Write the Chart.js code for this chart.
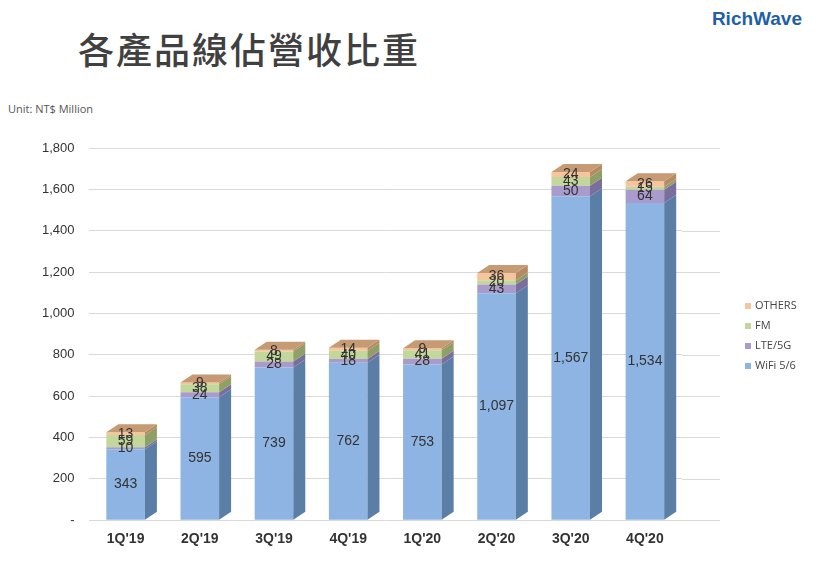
<!DOCTYPE html>
<html>
<head>
<meta charset="utf-8">
<script src="https://cdn.jsdelivr.net/npm/chart.js@4"></script>
<style>
  body { margin: 0; background: #fff; font-family: "Open Sans", "Noto Sans", sans-serif; }
  #wrap { position: relative; width: 820px; height: 561px; }
  #title { position: absolute; left: 78px; top: 22px; font-size: 36px; font-weight: 500; color: #404040; font-family: "Noto Sans CJK TC", sans-serif; letter-spacing: 2px; }
  #logo { position: absolute; right: 18px; top: 8px; font-size: 19px; font-weight: bold; color: #1f5fa8; font-family: "Liberation Sans", sans-serif; }
  #unit { position: absolute; left: 8px; top: 101px; font-size: 11px; color: #555; }
  canvas { position: absolute; left: 0; top: 0; }
</style>
</head>
<body>
<div id="wrap">
  <div id="title">各產品線佔營收比重</div>
  <div id="logo">RichWave</div>
  <div id="unit">Unit: NT$ Million</div>
  <canvas id="chart" width="820" height="561"></canvas>
</div>
<script>
const quarters = ["1Q'19", "2Q'19", "3Q'19", "4Q'19", "1Q'20", "2Q'20", "3Q'20", "4Q'20"];
const seriesNames = ['WiFi 5/6', 'LTE/5G', 'FM', 'OTHERS'];
const wifi = [343, 595, 739, 762, 753, 1097, 1567, 1534];
const lte = [10, 24, 28, 18, 28, 43, 50, 64];
const fm = [59, 38, 49, 40, 41, 20, 43, 15];
const others = [13, 9, 8, 14, 9, 36, 24, 26];

// front colour, side colour, top colour per series
const colors = [
    ['#8db4e2', '#5b7ea6', '#a9c6ea'],
    ['#a99ccc', '#7a6f9c', '#bdb3d8'],
    ['#c4d79b', '#8fa066', '#d3e2b3'],
    ['#f7c59d', '#b88a64', '#c69a72']
];

const DX = 12, DY = 8;
const GRID_EXTRA = 38;

/**
 * draws side faces, top face, value labels and the legend
 */
const boxPlugin = {
    id: 'box3d',
    beforeDatasetsDraw(chart) {
        // grid lines run a bit past the last category, like the original
        const ctx = chart.ctx, y = chart.scales.y, a = chart.chartArea;
        ctx.strokeStyle = '#d9d9d9';
        ctx.lineWidth = 1;
        y.ticks.forEach((t) => {
            const py = Math.round(y.getPixelForValue(t.value)) + 0.5;
            ctx.beginPath();
            ctx.moveTo(a.right, py);
            ctx.lineTo(a.right + GRID_EXTRA, py);
            ctx.stroke();
        });
    },
    afterDatasetsDraw(chart) {
        const ctx = chart.ctx;
        const n = chart.data.datasets.length;
        for (let d = 0; d < n; d++) {
            const meta = chart.getDatasetMeta(d);
            meta.data.forEach((bar) => {
                const right = bar.x + bar.width / 2;
                const left = bar.x - bar.width / 2;
                ctx.fillStyle = colors[d][1];
                ctx.beginPath();
                ctx.moveTo(right, bar.y);
                ctx.lineTo(right + DX, bar.y - DY);
                ctx.lineTo(right + DX, bar.base - DY);
                ctx.lineTo(right, bar.base);
                ctx.closePath();
                ctx.fill();
                if (d === n - 1) {
                    ctx.fillStyle = colors[d][2];
                    ctx.beginPath();
                    ctx.moveTo(left, bar.y);
                    ctx.lineTo(left + DX, bar.y - DY);
                    ctx.lineTo(right + DX, bar.y - DY);
                    ctx.lineTo(right, bar.y);
                    ctx.closePath();
                    ctx.fill();
                }
            });
        }
        ctx.fillStyle = '#333';
        ctx.font = '14px "Liberation Sans", sans-serif';
        ctx.textAlign = 'center';
        ctx.textBaseline = 'middle';
        for (let d = 0; d < n; d++) {
            const meta = chart.getDatasetMeta(d);
            meta.data.forEach((bar, i) => {
                const v = chart.data.datasets[d].data[i];
                ctx.fillText(v.toLocaleString('en-US'), bar.x, (bar.y + bar.base) / 2);
            });
        }
        // legend, top entry is the last series
        ctx.font = '11px "Open Sans", sans-serif';
        ctx.textAlign = 'left';
        const n2 = seriesNames.length;
        for (let k = 0; k < n2; k++) {
            const d = n2 - 1 - k;
            const ly = 306 + k * 20;
            ctx.fillStyle = colors[d][0];
            ctx.fillRect(745, ly - 3, 6, 6);
            ctx.fillStyle = '#444';
            ctx.fillText(seriesNames[d], 755, ly);
        }
    }
};

const mk = (label, data, i) => ({
    label: label, data: data, backgroundColor: colors[i][0],
    barPercentage: 0.52, categoryPercentage: 1
});

new Chart(document.getElementById('chart'), {
    type: 'bar',
    data: {
        labels: quarters,
        datasets: [mk(seriesNames[0], wifi, 0), mk(seriesNames[1], lte, 1), mk(seriesNames[2], fm, 2), mk(seriesNames[3], others, 3)]
    },
    plugins: [boxPlugin],
    options: {
        responsive: false,
        animation: false,
        layout: { padding: { left: 28, top: 148, right: 138, bottom: 10 } },
        plugins: {
            tooltip: { enabled: false },
            legend: { display: false }
        },
        scales: {
            x: {
                stacked: true,
                grid: { display: false },
                border: { display: false },
                ticks: { color: '#333', font: { size: 14, weight: 'bold' } }
            },
            y: {
                stacked: true,
                min: 0, max: 1800,
                ticks: {
                    stepSize: 200, color: '#333', padding: 14,
                    font: { size: 13 },
                    callback: (v) => v === 0 ? '-' : v.toLocaleString('en-US')
                },
                grid: { color: '#d9d9d9', drawTicks: false },
                border: { display: false }
            }
        }
    }
});
</script>
</body>
</html>
